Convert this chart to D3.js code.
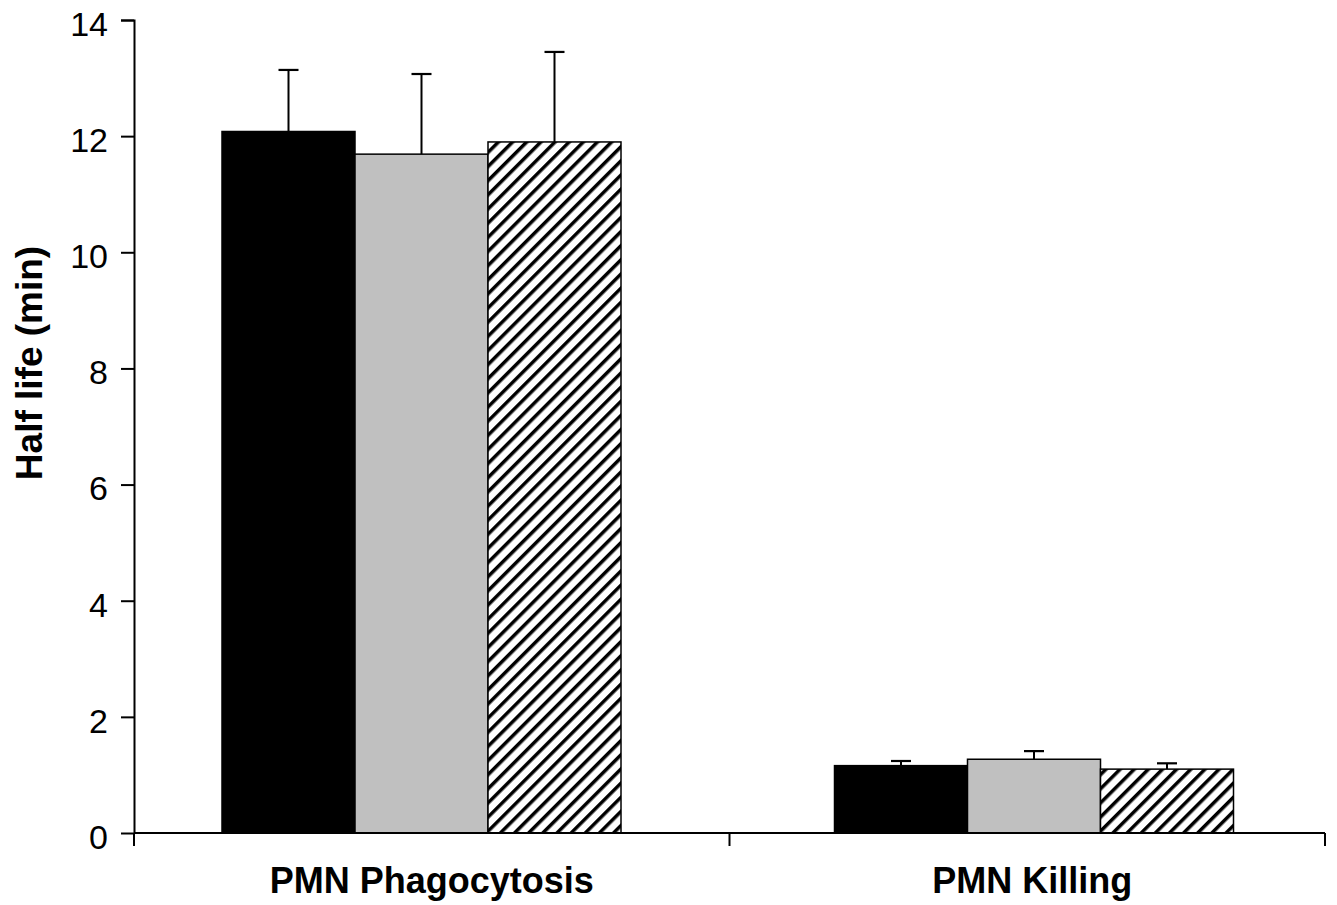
<!DOCTYPE html>
<html>
<head>
<meta charset="utf-8">
<script src="https://cdn.jsdelivr.net/npm/d3@7"></script>
<style>
  body { margin: 0; background: #fff; }
  text { font-family: "Liberation Sans", Arial, sans-serif; fill: #000; }
</style>
</head>
<body>
<script>
var categories = ["PMN Phagocytosis", "PMN Killing"];
var series = ["s1", "s2", "s3"];
var values = [
    [12.08, 11.69, 11.90],
    [1.16, 1.27, 1.10]
];
var errors = [
    [1.06, 1.38, 1.55],
    [0.08, 0.14, 0.10]
];
var yTicks = [0, 2, 4, 6, 8, 10, 12, 14];

var margin = {top: 20, right: 12, bottom: 72, left: 134},
    width = 1337 - margin.left - margin.right,
    height = 905 - margin.top - margin.bottom;

var svg = d3.select("body").append("svg")
    .attr("width", 1337)
    .attr("height", 905);

var defs = svg.append("defs");
var pat = defs.append("pattern")
    .attr("id", "hatch")
    .attr("patternUnits", "userSpaceOnUse")
    .attr("width", 10)
    .attr("height", 10)
    .attr("patternTransform", "rotate(45)");
pat.append("rect").attr("width", 10).attr("height", 10).attr("fill", "#fff");
pat.append("line")
    .attr("x1", 0).attr("y1", 0).attr("x2", 0).attr("y2", 10)
    .attr("stroke", "#000")
    .attr("stroke-width", 7);

var fills = ["#000", "#c0c0c0", "url(#hatch)"];

var g = svg.append("g")
    .attr("transform", "translate(" + margin.left + "," + margin.top + ")");

var x = d3.scaleBand()
    .domain(categories)
    .range([0, width]);

var x1 = d3.scaleBand()
    .domain(series)
    .range([0, 399]);

var y = d3.scaleLinear()
    .domain([0, 14])
    .range([height, 0]);

// offset of the bar cluster inside each category band
var offsets = [88, 105];
var labelShift = [0, 5];

var groups = g.selectAll(".group")
    .data(categories)
    .enter()
    .append("g")
    .attr("class", "group")
    .attr("transform", (d, i) => "translate(" + (x(d) + offsets[i]) + ",0)");

groups.each(function(c, ci) {
    var grp = d3.select(this);
    var rows = series.map((s, si) => ({s: s, si: si, v: values[ci][si], e: errors[ci][si]}));

    // error bars (upper only)
    grp.selectAll(".err")
        .data(rows)
        .enter()
        .append("line")
        .attr("x1", d => x1(d.s) + x1.bandwidth() / 2)
        .attr("x2", d => x1(d.s) + x1.bandwidth() / 2)
        .attr("y1", d => y(d.v))
        .attr("y2", d => y(d.v + d.e))
        .attr("stroke", "#000")
        .attr("stroke-width", 2);

    grp.selectAll(".cap")
        .data(rows)
        .enter()
        .append("line")
        .attr("x1", d => x1(d.s) + x1.bandwidth() / 2 - 10)
        .attr("x2", d => x1(d.s) + x1.bandwidth() / 2 + 10)
        .attr("y1", d => y(d.v + d.e))
        .attr("y2", d => y(d.v + d.e))
        .attr("stroke", "#000")
        .attr("stroke-width", 2.2);

    grp.selectAll(".bar")
        .data(rows)
        .enter()
        .append("rect")
        .attr("class", "bar")
        .attr("x", d => x1(d.s))
        .attr("y", d => y(d.v))
        .attr("width", x1.bandwidth())
        .attr("height", d => height - y(d.v))
        .attr("fill", d => fills[d.si])
        .attr("stroke", "#000")
        .attr("stroke-width", 1.5);
});

// y axis
var yAxis = g.append("g")
    .call(d3.axisLeft(y).tickValues(yTicks).tickSize(13).tickPadding(13).tickFormat(d3.format("d")));
yAxis.select(".domain").attr("d", "M-13,0.5H0.5V" + height);
yAxis.selectAll("line").attr("stroke-width", 2);
yAxis.select(".domain").attr("stroke-width", 2);
yAxis.selectAll("text")
    .attr("dy", "0.45em")
    .style("font-size", "34px")
    .style("font-family", "Liberation Sans, Arial, sans-serif");

// x axis
var xAxis = g.append("g")
    .attr("transform", "translate(0," + height + ")");
xAxis.append("line")
    .attr("x1", 0).attr("x2", width)
    .attr("stroke", "#000").attr("stroke-width", 2);
xAxis.selectAll(".xtick")
    .data([0, width / 2, width])
    .enter()
    .append("line")
    .attr("x1", d => d).attr("x2", d => d)
    .attr("y1", 0).attr("y2", 13)
    .attr("stroke", "#000").attr("stroke-width", 2);
xAxis.selectAll(".xlab")
    .data(categories)
    .enter()
    .append("text")
    .attr("x", (d, i) => x(d) + x.bandwidth() / 2 + labelShift[i])
    .attr("y", 60)
    .attr("text-anchor", "middle")
    .style("font-size", "36px")
    .style("font-weight", "bold")
    .text(d => d);

// y label
svg.append("text")
    .attr("transform", "translate(42," + 363 + ") rotate(-90)")
    .attr("text-anchor", "middle")
    .style("font-size", "37px")
    .style("font-weight", "bold")
    .text("Half life (min)");
</script>
</body>
</html>
